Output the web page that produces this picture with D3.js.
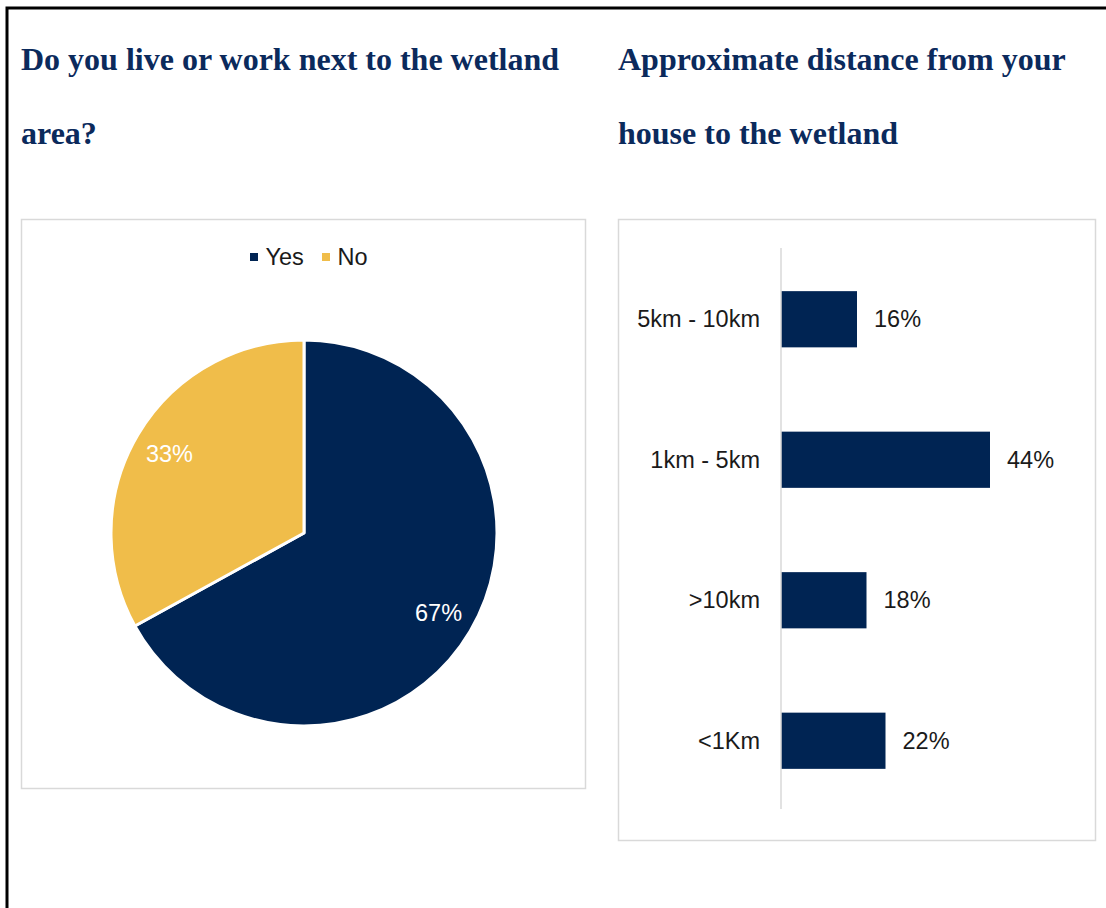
<!DOCTYPE html>
<html>
<head>
<meta charset="utf-8">
<script src="https://cdn.jsdelivr.net/npm/d3@7"></script>
<style>
  html, body { margin: 0; padding: 0; background: #fff; }
  svg { display: block; }
</style>
</head>
<body>
<svg id="chart" width="1106" height="908"></svg>
<script>
// Survey responses: living/working next to the wetland
const pieCategories = ["Yes", "No"];
const pieValues = [67, 33];
const pieColors = ["#002453", "#F0BD4A"];

// Approximate distance from house to the wetland (%), top to bottom
const barCategories = ["5km - 10km", "1km - 5km", ">10km", "<1Km"];
const barValues = [16, 44, 18, 22];
const barColor = "#002453";

const titleColor = "#0B2A5C";
const titleFont = "'Liberation Serif', 'Times New Roman', serif";
const labelFont = "'Liberation Sans', Arial, sans-serif";
const labelSize = 23.5;

const svg = d3.select("#chart");

// Outer frame (open on the right and bottom edges of the page)
svg.append("rect")
  .attr("x", 7).attr("y", 8)
  .attr("width", 1120).attr("height", 940)
  .attr("fill", "none").attr("stroke", "#000").attr("stroke-width", 3);

// Titles
const titles = [
  { x: 21, lines: ["Do you live or work next to the wetland", "area?"] },
  { x: 618, lines: ["Approximate distance from your", "house to the wetland"] }
];
titles.forEach(t => {
  t.lines.forEach((line, i) => {
    svg.append("text")
      .attr("x", t.x).attr("y", 70 + i * 74)
      .attr("font-family", titleFont)
      .attr("font-weight", "bold")
      .attr("font-size", 32)
      .attr("fill", titleColor)
      .text(line);
  });
});

// Panel boxes
svg.append("rect").attr("x", 21.5).attr("y", 219.5).attr("width", 564).attr("height", 569)
  .attr("fill", "#fff").attr("stroke", "#D9D9D9").attr("stroke-width", 1.5);
svg.append("rect").attr("x", 618.5).attr("y", 219.5).attr("width", 477).attr("height", 621)
  .attr("fill", "#fff").attr("stroke", "#D9D9D9").attr("stroke-width", 1.5);

// ---- Pie chart ----
const cx = 304, cy = 533, r = 193;
const pieData = pieCategories.map((c, i) => ({ cat: c, value: pieValues[i], color: pieColors[i] }));
const pie = d3.pie().sort(null).value(d => d.value);
const arc = d3.arc().innerRadius(0).outerRadius(r);
const arcs = pie(pieData);

const pg = svg.append("g").attr("transform", `translate(${cx},${cy})`);
pg.selectAll("path").data(arcs).join("path")
  .attr("d", arc)
  .attr("fill", d => d.data.color)
  .attr("stroke", "#fff")
  .attr("stroke-width", 3)
  .attr("stroke-linejoin", "round");

const labelArc = d3.arc().innerRadius(r * 0.81).outerRadius(r * 0.81);
pg.selectAll("text.pct").data(arcs).join("text")
  .attr("class", "pct")
  .attr("transform", d => `translate(${labelArc.centroid(d)})`)
  .attr("text-anchor", "middle")
  .attr("dy", "0.35em")
  .attr("font-family", labelFont)
  .attr("font-size", labelSize)
  .attr("fill", "#fff")
  .text(d => d.data.value + "%");

// Legend
const legend = svg.append("g");
const legendItems = [{ x: 250, cat: pieCategories[0], color: pieColors[0] },
                     { x: 322, cat: pieCategories[1], color: pieColors[1] }];
legendItems.forEach(it => {
  legend.append("rect").attr("x", it.x).attr("y", 253).attr("width", 8).attr("height", 8).attr("fill", it.color);
  legend.append("text").attr("x", it.x + 15.5).attr("y", 257).attr("dy", "0.35em")
    .attr("font-family", labelFont).attr("font-size", labelSize).attr("fill", "#1a1a1a")
    .text(it.cat);
});

// ---- Bar chart ----
const x0 = 781;
const xScale = d3.scaleLinear().domain([0, 44]).range([x0, 990]);
const yScale = d3.scaleBand().domain(barCategories).range([249, 811]).paddingInner(0.6).paddingOuter(0.3);

const bg = svg.append("g");
bg.selectAll("rect.bar").data(barCategories).join("rect")
  .attr("class", "bar")
  .attr("x", x0)
  .attr("y", d => yScale(d))
  .attr("width", (d, i) => xScale(barValues[i]) - x0)
  .attr("height", yScale.bandwidth())
  .attr("fill", barColor);

// Category axis line
bg.append("line")
  .attr("x1", x0).attr("x2", x0)
  .attr("y1", 248).attr("y2", 809)
  .attr("stroke", "#D9D9D9").attr("stroke-width", 1.5);

// Category labels
bg.selectAll("text.cat").data(barCategories).join("text")
  .attr("class", "cat")
  .attr("x", 760)
  .attr("y", d => yScale(d) + yScale.bandwidth() / 2)
  .attr("dy", "0.35em")
  .attr("text-anchor", "end")
  .attr("font-family", labelFont).attr("font-size", labelSize).attr("fill", "#1a1a1a")
  .text(d => d);

// Value labels
bg.selectAll("text.val").data(barCategories).join("text")
  .attr("class", "val")
  .attr("x", (d, i) => xScale(barValues[i]) + 17)
  .attr("y", d => yScale(d) + yScale.bandwidth() / 2)
  .attr("dy", "0.35em")
  .attr("font-family", labelFont).attr("font-size", labelSize).attr("fill", "#1a1a1a")
  .text((d, i) => barValues[i] + "%");
</script>
</body>
</html>
